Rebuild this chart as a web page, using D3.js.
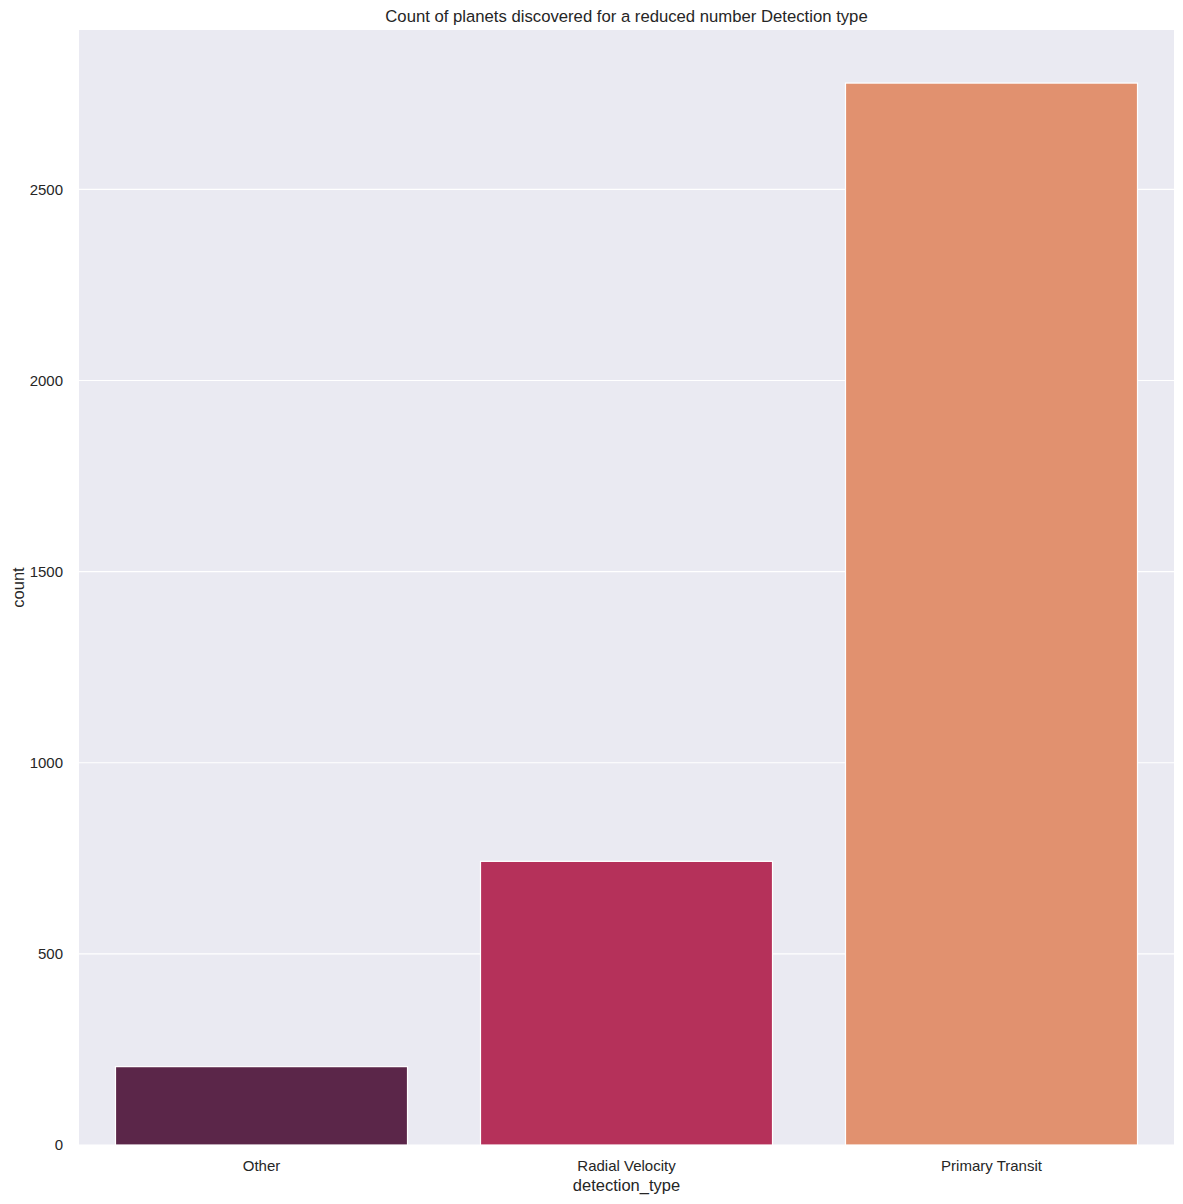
<!DOCTYPE html>
<html>
<head>
<meta charset="utf-8">
<script src="https://cdn.jsdelivr.net/npm/d3@7"></script>
<style>
  body { margin: 0; background: #fff; }
  text { font-family: "Liberation Sans", Arial, sans-serif; fill: #262626; }
</style>
</head>
<body>
<script>
// categories and counts
var categories = ['Other', 'Radial Velocity', 'Primary Transit'];
var counts = [205, 742, 2778];
var barColors = ['#5b2649', '#b5315a', '#e1916f'];
var yTicks = [0, 500, 1000, 1500, 2000, 2500];

var W = 1183, H = 1204;
var margin = { top: 30, right: 9, bottom: 59, left: 79 };
var width = W - margin.left - margin.right,
	height = H - margin.top - margin.bottom;

var svg = d3.select('body').append('svg')
	.attr('width', W)
	.attr('height', H);

var g = svg.append('g')
	.attr('transform', `translate(${margin.left}, ${margin.top})`);

// background
g.append('rect')
	.attr('width', width)
	.attr('height', height)
	.style('fill', '#eaeaf2');

var x = d3.scaleBand()
	.domain(categories)
	.range([0, width])
	.paddingInner(0.2)
	.paddingOuter(0.1);

var y = d3.scaleLinear()
	.domain([0, d3.max(counts) * 1.05])
	.range([height, 0]);

// grid lines
g.selectAll('.grid')
	.data(yTicks)
	.enter().append('line')
	.attr('x1', 0)
	.attr('x2', width)
	.attr('y1', function(d) { return y(d); })
	.attr('y2', function(d) { return y(d); })
	.style('stroke', '#fff')
	.style('stroke-width', 1.2);

// bars
g.selectAll('.bar')
	.data(counts)
	.enter().append('rect')
	.attr('x', function(d, i) { return x(categories[i]); })
	.attr('y', function(d) { return y(d); })
	.attr('width', x.bandwidth())
	.attr('height', function(d) { return height - y(d); })
	.style('fill', function(d, i) { return barColors[i]; })
	.style('stroke', '#fff')
	.style('stroke-width', 1.2);

// axes
var yAxis = d3.axisLeft(y).tickValues(yTicks).tickFormat(d3.format('d')).tickSize(0).tickPadding(16);
var xAxis = d3.axisBottom(x).tickSize(0).tickPadding(15);

var ya = g.append('g').call(yAxis);
var xa = g.append('g').attr('transform', `translate(0, ${height})`).call(xAxis);
[ya, xa].forEach(function(a) {
	a.select('.domain').remove();
	a.selectAll('text')
		.style('font-size', '15px')
		.style('fill', '#262626')
		.style('font-family', '"Liberation Sans", Arial, sans-serif');
});

// axis labels
svg.append('text')
	.attr('x', margin.left + width / 2)
	.attr('y', H - 13)
	.style('text-anchor', 'middle')
	.style('font-size', '16.5px')
	.text('detection_type');

svg.append('text')
	.attr('transform', `translate(24, ${margin.top + height / 2}) rotate(-90)`)
	.style('text-anchor', 'middle')
	.style('font-size', '16.5px')
	.text('count');

// title
svg.append('text')
	.attr('x', margin.left + width / 2)
	.attr('y', 22)
	.style('text-anchor', 'middle')
	.style('font-size', '16.7px')
	.text('Count of planets discovered for a reduced number Detection type');
</script>
</body>
</html>
